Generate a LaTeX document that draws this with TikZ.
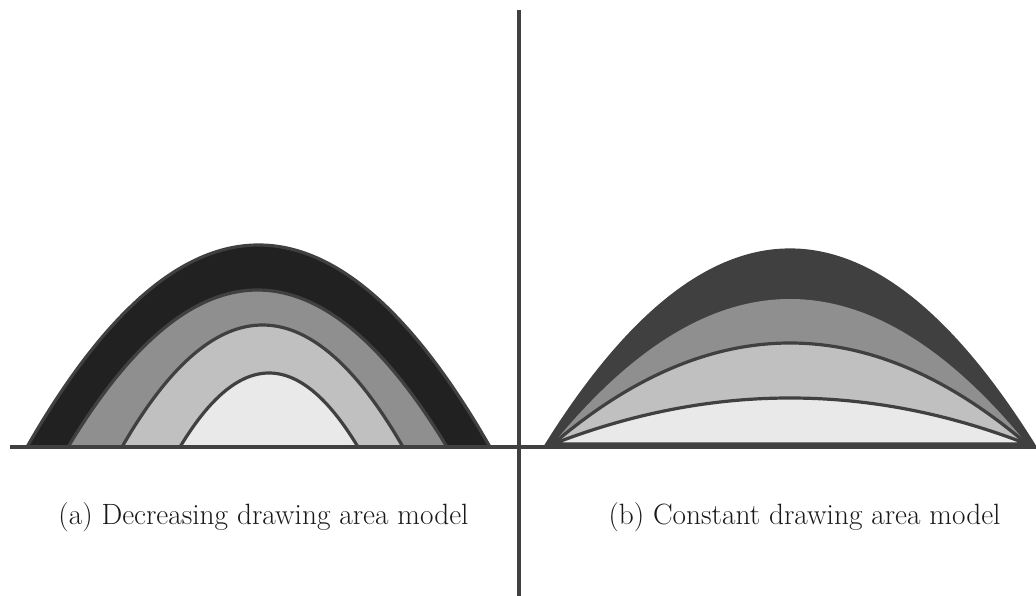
\documentclass[tikz,border=0pt]{standalone}
\begin{document}
\begin{tikzpicture}[x=0.75pt,y=-0.75pt,
  bord/.style={draw=c4,line width=2.4pt,line join=round},
  axis/.style={draw=c4,line width=3pt},
  captext/.style={font=\fontsize{22}{26}\selectfont,text=black!90,inner sep=0pt}]
\definecolor{c4}{HTML}{404040}
\definecolor{cd}{HTML}{212121}
\definecolor{cg}{HTML}{8F8F8F}
\definecolor{cl}{HTML}{C0C0C0}
\definecolor{cw}{HTML}{E9E9E9}
\useasboundingbox (0,0) rectangle (1036,596);
% (a) decreasing drawing area
\filldraw[bord,fill=cd] plot[domain=-231.5:231.5,samples=80,smooth] ({258.5+\x},{447-202*(1-(\x/231.5)^2)}) -- cycle;
\filldraw[bord,fill=cg] plot[domain=-189.5:189.5,samples=80,smooth] ({257.5+\x},{447-157*(1-(\x/189.5)^2)}) -- cycle;
\filldraw[bord,fill=cl] plot[domain=-140.5:140.5,samples=80,smooth] ({262.5+\x},{447-122*(1-(\x/140.5)^2)}) -- cycle;
\filldraw[bord,fill=cw] plot[domain=-89:89,samples=80,smooth] ({269+\x},{447-74*(1-(\x/89)^2)}) -- cycle;
% (b) constant drawing area
\filldraw[bord,fill=c4] plot[domain=-245:245,samples=80,smooth] ({790+\x},{447-197*(1-(\x/245)^2)}) -- cycle;
\fill[cg] plot[domain=-237:237,samples=80,smooth] ({790+\x},{444-145*(1-(\x/237)^2)}) -- cycle;
\filldraw[bord,fill=cl] plot[domain=-237:237,samples=80,smooth] ({790+\x},{444-101*(1-(\x/237)^2)}) -- cycle;
\filldraw[bord,fill=cw] plot[domain=-237:237,samples=80,smooth] ({790+\x},{444-46*(1-(\x/237)^2)}) -- cycle;
% axes
\coordinate (hl) at (10,447);
\coordinate (hr) at (1036,447);
\coordinate (vt) at (519,10);
\coordinate (vb) at (519,596);
\draw[axis] (hl) -- (hr);
\draw[axis] (vt) -- (vb);
% captions
\node[captext] (capa) at (263.5,517) {(a) Decreasing drawing area model};
\node[captext] (capb) at (804.5,517) {(b) Constant drawing area model};
\end{tikzpicture}
\end{document}
